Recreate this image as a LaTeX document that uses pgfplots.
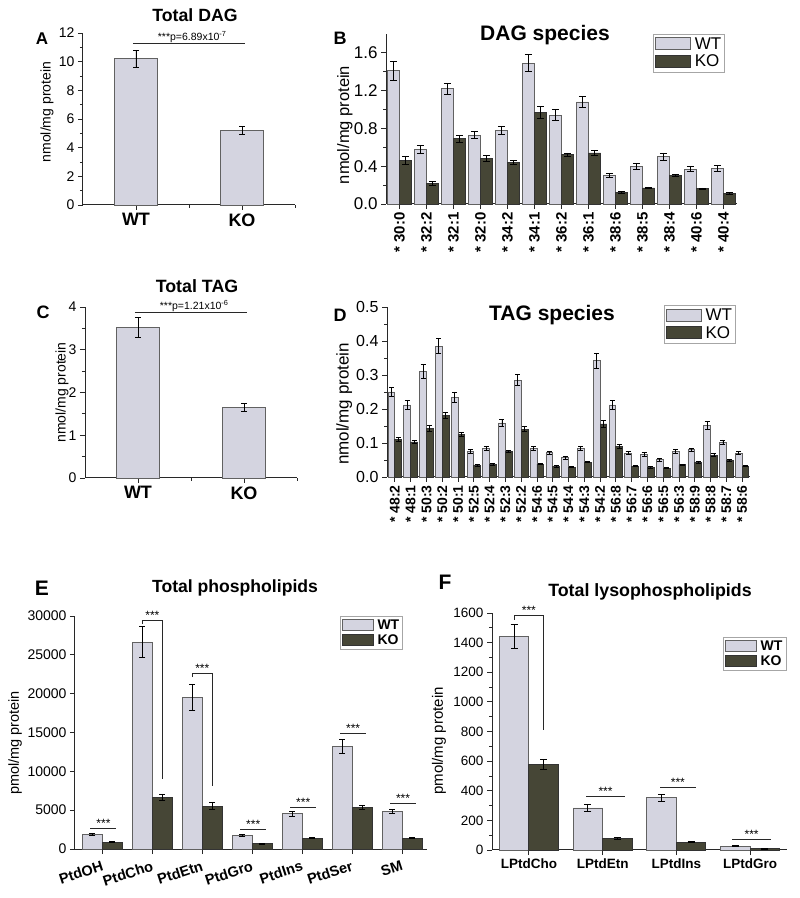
\documentclass[border=0pt]{standalone}
\usepackage{fontspec}
\setmainfont{Liberation Sans}
\usepackage{pgfplots}
\usepackage{pgfplotstable}
\pgfplotsset{compat=1.18}

\definecolor{wtfill}{RGB}{212,212,224}
\definecolor{kofill}{RGB}{70,70,54}
\definecolor{axcol}{RGB}{40,40,40}

\newcommand{\fs}[1]{\fontsize{#1}{#1}\selectfont}

% DAG species (B)
\pgfplotstableread{
x  wt    wte   ko    koe
0  1.41  0.10  0.46  0.04
1  0.58  0.04  0.22  0.02
2  1.22  0.06  0.69  0.04
3  0.73  0.04  0.48  0.03
4  0.78  0.04  0.44  0.02
5  1.49  0.09  0.97  0.06
6  0.94  0.06  0.52  0.02
7  1.08  0.06  0.54  0.03
8  0.30  0.02  0.12  0.01
9  0.40  0.03  0.17  0.01
10 0.50  0.04  0.30  0.01
11 0.37  0.03  0.16  0.01
12 0.38  0.03  0.11  0.01
}\datB

% TAG species (D)
\pgfplotstableread{
x  wt     wte    ko     koe
0  0.250  0.013  0.111  0.006
1  0.212  0.013  0.103  0.004
2  0.310  0.020  0.143  0.010
3  0.385  0.022  0.182  0.009
4  0.235  0.015  0.124  0.006
5  0.075  0.005  0.034  0.002
6  0.084  0.006  0.037  0.002
7  0.159  0.010  0.075  0.003
8  0.285  0.017  0.141  0.007
9  0.085  0.006  0.038  0.002
10 0.071  0.004  0.031  0.002
11 0.057  0.004  0.029  0.002
12 0.083  0.006  0.044  0.002
13 0.342  0.022  0.156  0.009
14 0.212  0.013  0.091  0.006
15 0.070  0.004  0.032  0.002
16 0.066  0.005  0.028  0.002
17 0.051  0.004  0.026  0.002
18 0.075  0.005  0.036  0.002
19 0.080  0.005  0.044  0.003
20 0.152  0.011  0.064  0.004
21 0.103  0.006  0.048  0.003
22 0.070  0.004  0.032  0.002
}\datD

% phospholipids (E)
\pgfplotstableread{
x  wt     wte   ko    koe
0  1930   120   860   60
1  26620  2000  6690  400
2  19550  1700  5490  450
3  1720   130   690   50
4  4540   300   1410  80
5  13200  900   5360  250
6  4840   300   1410  80
}\datE

% lysophospholipids (F)
\pgfplotstableread{
x  wt    wte  ko   koe
0  1442  78   579  35
1  284   25   79   8
2  352   25   54   5
3  27    4    9    2
}\datF

\tikzset{
  ann/.style={line width=0.7pt, axcol},
  star/.style={anchor=base, font=\fs{12}, inner sep=0pt, yshift=1pt},
}

\pgfplotsset{
  panel/.style={
    scale only axis, clip=false,
    anchor=south west,
    axis x line*=bottom, axis y line*=left,
    axis line style={line width=1pt, axcol},
    every tick/.style={line width=0.8pt, axcol},
    tick align=outside,
    major tick length=5pt, minor tick length=3pt,
    ymin=0, ybar,
    /pgf/number format/assume math mode=true,
    scaled y ticks=false,
    yticklabel style={/pgf/number format/1000 sep={}},
    legend cell align=left,
  },
  leg/.style={legend style={at={#1}, anchor=north east, draw=black!35, line width=0.6pt,
    inner sep=1.5pt, nodes={inner sep=2pt},
    /tikz/every odd column/.append style={column sep=2pt},
    /tikz/every even column/.append style={column sep=3pt}}},
  wt/.style={fill=wtfill, draw=black!62, line width=0.8pt,
    legend image code/.code={\draw[##1] (0pt,-5.5pt) rectangle (35pt,6.5pt);}},
  ko/.style={fill=kofill, draw=black!80, line width=0.8pt,
    legend image code/.code={\draw[##1] (0pt,-5.5pt) rectangle (35pt,6.5pt);}},
  wts/.style={fill=wtfill, draw=black!62, line width=0.8pt,
    legend image code/.code={\draw[##1] (0pt,-5pt) rectangle (31pt,6pt);}},
  kos/.style={fill=kofill, draw=black!80, line width=0.8pt,
    legend image code/.code={\draw[##1] (0pt,-5pt) rectangle (31pt,6pt);}},
  eb/.style={error bars/y dir=both, error bars/y explicit,
    error bars/error bar style={line width=0.8pt, black},
    error bars/error mark options={rotate=90, mark size=#1, line width=0.8pt, black}},
}

\begin{document}
\begin{tikzpicture}
\useasboundingbox (0pt,0pt) rectangle (800pt,898pt);

% ---------- A ----------
\begin{axis}[panel, at={(83pt,693pt)}, width=212pt, height=172pt,
  xmin=-0.5, xmax=1.5, ymax=12, bar width=0.4,
  xtick={0,1}, xticklabels={WT,KO}, minor xtick={0.5,1.5},
  ytick={0,2,4,6,8,10,12}, minor y tick num=1,
  xticklabel style={font=\bfseries\fs{18}},
  yticklabel style={font=\fs{14}},
  ylabel={nmol/mg protein},
  ylabel style={font=\fs{14}, at={(axis description cs:-0.17,0.54)}, anchor=center},
]
\addplot[wt, bar shift=0, eb=3pt] coordinates {(0,10.2) +- (0,0.6) (1,5.2) +- (0,0.3)};
\draw[ann] (axis cs:-0.03,11.3) -- (axis cs:1.03,11.3);
\node[anchor=base, font=\fs{10.5}, yshift=3pt] at (axis cs:0.53,11.3) {***p=6.89x10\textsuperscript{-7}};
\end{axis}

% ---------- B ----------
\begin{axis}[panel, at={(386pt,694pt)}, width=351pt, height=170pt,
  xmin=-0.5, xmax=12.5, ymax=1.8, bar width=0.45,
  xtick={0,...,12},
  xticklabels={* 30:0,* 32:2,* 32:1,* 32:0,* 34:2,* 34:1,* 36:2,* 36:1,* 38:6,* 38:5,* 38:4,* 40:6,* 40:4},
  xticklabel style={rotate=90, anchor=east, font=\bfseries\fs{15}},
  ytick={0,0.4,0.8,1.2,1.6}, minor y tick num=1,
  yticklabel style={font=\fs{17}, /pgf/number format/.cd, fixed, fixed zerofill, precision=1},
  ylabel={nmol/mg protein},
  ylabel style={font=\fs{16.5}, at={(axis description cs:-0.117,0.465)}, anchor=center},
  leg={(0.966,1.0)}, legend style={font=\fs{17}},
]
\addplot[wt, bar shift=-0.225, eb=3.5pt] table[x=x, y=wt, y error=wte] {\datB};
\addlegendentry{WT}
\addplot[ko, bar shift=0.225, eb=3.5pt] table[x=x, y=ko, y error=koe] {\datB};
\addlegendentry{KO}
\end{axis}

% ---------- C ----------
\begin{axis}[panel, at={(85pt,420pt)}, width=212pt, height=171pt,
  xmin=-0.5, xmax=1.5, ymax=4, bar width=0.4,
  xtick={0,1}, xticklabels={WT,KO}, minor xtick={0.5,1.5},
  ytick={0,1,2,3,4}, minor y tick num=1,
  xticklabel style={font=\bfseries\fs{18}},
  yticklabel style={font=\fs{14}},
  ylabel={nmol/mg protein},
  ylabel style={font=\fs{14}, at={(axis description cs:-0.108,0.5)}, anchor=center},
]
\addplot[wt, bar shift=0, eb=3pt] coordinates {(0,3.53) +- (0,0.23) (1,1.65) +- (0,0.1)};
\draw[ann] (axis cs:-0.03,3.88) -- (axis cs:1.03,3.88);
\node[anchor=base, font=\fs{10.5}, yshift=3pt] at (axis cs:0.53,3.88) {***p=1.21x10\textsuperscript{-6}};
\end{axis}

% ---------- D ----------
\begin{axis}[panel, at={(387pt,421pt)}, width=363pt, height=170pt,
  xmin=-0.5, xmax=22.5, ymax=0.5, bar width=0.43,
  xtick={0,...,22},
  xticklabels={* 48:2,* 48:1,* 50:3,* 50:2,* 50:1,* 52:5,* 52:4,* 52:3,* 52:2,* 54:6,* 54:5,* 54:4,* 54:3,* 54:2,* 56:8,* 56:7,* 56:6,* 56:5,* 56:3,* 58:9,* 58:8,* 58:7,* 58:6},
  xticklabel style={rotate=90, anchor=east, font=\bfseries\fs{14}},
  ytick={0,0.1,0.2,0.3,0.4,0.5}, minor y tick num=1,
  yticklabel style={font=\fs{16}, /pgf/number format/.cd, fixed, fixed zerofill, precision=1},
  ylabel={nmol/mg protein},
  ylabel style={font=\fs{17}, at={(axis description cs:-0.118,0.43)}, anchor=center},
  leg={(0.961,1.01)}, legend style={font=\fs{17}},
]
\addplot[wt, bar shift=-0.215, eb=2.5pt] table[x=x, y=wt, y error=wte] {\datD};
\addlegendentry{WT}
\addplot[ko, bar shift=0.215, eb=2.5pt] table[x=x, y=ko, y error=koe] {\datD};
\addlegendentry{KO}
\end{axis}

% ---------- E ----------
\begin{axis}[panel, at={(75pt,49pt)}, width=352pt, height=233pt,
  xmin=-0.55, xmax=6.5, ymax=30000, bar width=0.4,
  xtick={0,...,6},
  xticklabels={PtdOH,PtdCho,PtdEtn,PtdGro,PtdIns,PtdSer,SM},
  xticklabel style={rotate=18, anchor=north east, yshift=-2pt, font=\bfseries\fs{14.5}},
  ytick={0,5000,10000,15000,20000,25000,30000},
  yticklabel style={font=\fs{14}},
  ylabel={pmol/mg protein},
  ylabel style={font=\fs{14.5}, at={(axis description cs:-0.17,0.455)}, anchor=center},
  leg={(0.932,1.0)}, legend style={font=\bfseries\fs{14}},
]
\addplot[wts, bar shift=-0.2, eb=3pt] table[x=x, y=wt, y error=wte] {\datE};
\addlegendentry{WT}
\addplot[kos, bar shift=0.2, eb=3pt] table[x=x, y=ko, y error=koe] {\datE};
\addlegendentry{KO}
\draw[ann] (axis cs:-0.24,2700) -- (axis cs:0.27,2700);
\node[star] at (axis cs:0.02,2700) {***};
\draw[ann] (axis cs:0.8,28970) -- (axis cs:0.8,29400) -- (axis cs:1.2,29400) -- (axis cs:1.2,9000);
\node[star] at (axis cs:1.0,29400) {***};
\draw[ann] (axis cs:1.8,22120) -- (axis cs:1.8,22630) -- (axis cs:2.2,22630) -- (axis cs:2.2,8140);
\node[star] at (axis cs:2.0,22630) {***};
\draw[ann] (axis cs:2.76,2490) -- (axis cs:3.27,2490);
\node[star] at (axis cs:3.02,2490) {***};
\draw[ann] (axis cs:3.76,5360) -- (axis cs:4.27,5360);
\node[star] at (axis cs:4.02,5360) {***};
\draw[ann] (axis cs:4.76,14830) -- (axis cs:5.27,14830);
\node[star] at (axis cs:5.02,14830) {***};
\draw[ann] (axis cs:5.76,5910) -- (axis cs:6.27,5910);
\node[star] at (axis cs:6.02,5910) {***};
\end{axis}

% ---------- F ----------
\begin{axis}[panel, at={(492pt,48pt)}, width=295pt, height=237pt,
  xmin=-0.5, xmax=3.5, ymax=1600, bar width=0.4,
  xtick={0,...,3},
  xticklabels={LPtdCho,LPtdEtn,LPtdIns,LPtdGro},
  xticklabel style={font=\bfseries\fs{13.5}},
  ytick={0,200,400,600,800,1000,1200,1400,1600}, minor y tick num=1,
  yticklabel style={font=\fs{13.5}},
  ylabel={pmol/mg protein},
  ylabel style={font=\fs{15}, at={(axis description cs:-0.18,0.46)}, anchor=center},
  leg={(0.997,0.899)}, legend style={font=\bfseries\fs{14}},
]
\addplot[wts, bar shift=-0.2, eb=3.5pt] table[x=x, y=wt, y error=wte] {\datF};
\addlegendentry{WT}
\addplot[kos, bar shift=0.2, eb=3.5pt] table[x=x, y=ko, y error=koe] {\datF};
\addlegendentry{KO}
\draw[ann] (axis cs:-0.2,1555) -- (axis cs:-0.2,1582) -- (axis cs:0.2,1582) -- (axis cs:0.2,811);
\node[star] at (axis cs:0,1582) {***};
\draw[ann] (axis cs:0.78,360) -- (axis cs:1.3,360);
\node[star] at (axis cs:1.04,360) {***};
\draw[ann] (axis cs:1.78,421) -- (axis cs:2.27,421);
\node[star] at (axis cs:2.02,421) {***};
\draw[ann] (axis cs:2.76,72) -- (axis cs:3.28,72);
\node[star] at (axis cs:3.02,72) {***};
\end{axis}

% ---------- titles and panel letters ----------
\node[font=\bfseries\fs{17.7}] at (195pt,883pt) {Total DAG};
\node[font=\bfseries\fs{21}] at (545pt,863pt) {DAG species};
\node[font=\bfseries\fs{17.8}] at (197pt,612pt) {Total TAG};
\node[font=\bfseries\fs{21}] at (552pt,583pt) {TAG species};
\node[font=\bfseries\fs{17.6}] at (235pt,310pt) {Total phospholipids};
\node[font=\bfseries\fs{17.8}] at (650pt,306pt) {Total lysophospholipids};
\node[font=\bfseries\fs{17}] at (42pt,859pt) {A};
\node[font=\bfseries\fs{18}] at (340pt,860pt) {B};
\node[font=\bfseries\fs{18}] at (43pt,586pt) {C};
\node[font=\bfseries\fs{18}] at (340pt,583pt) {D};
\node[font=\bfseries\fs{21}] at (42pt,310pt) {E};
\node[font=\bfseries\fs{21}] at (445pt,316pt) {F};
\end{tikzpicture}
\end{document}
